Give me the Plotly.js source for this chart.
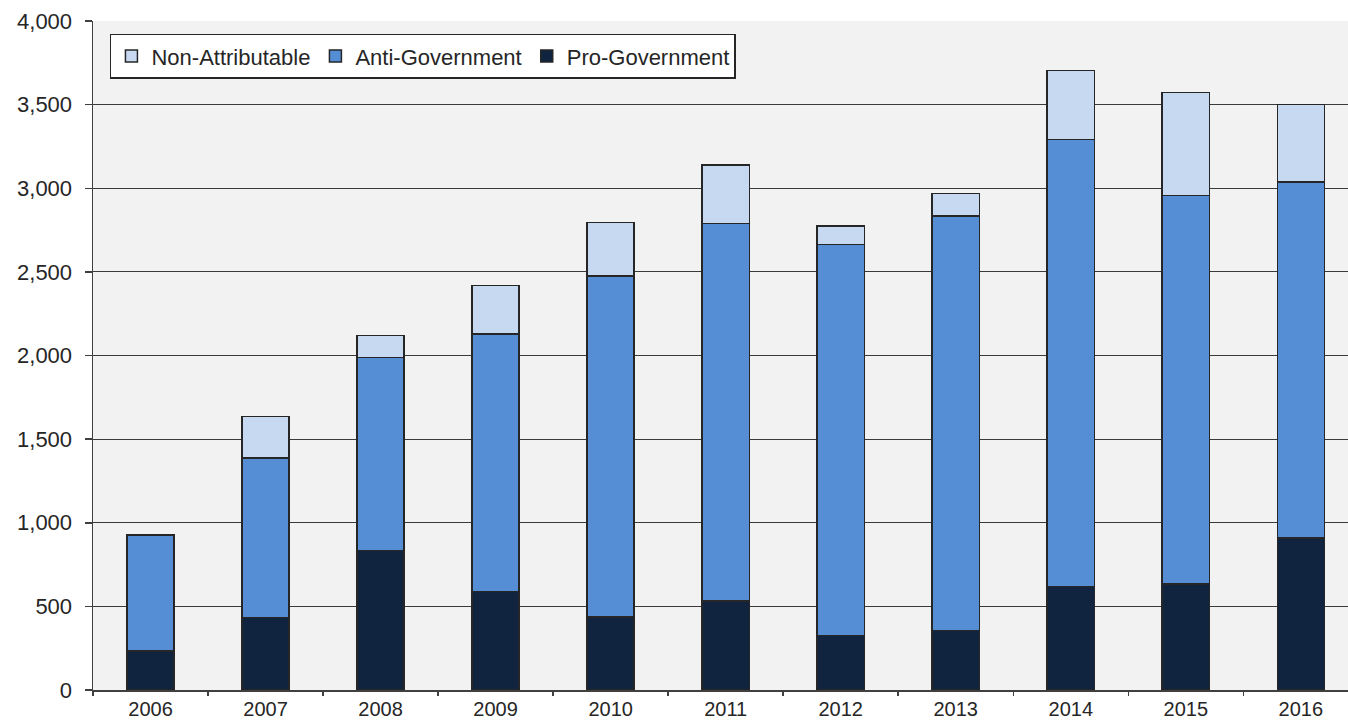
<!DOCTYPE html>
<html>
<head>
<meta charset="utf-8">
<script src="https://cdn.plot.ly/plotly-3.0.1.min.js"></script>
<style>
  html, body { margin: 0; padding: 0; background: #ffffff; overflow: hidden; }
  #chart { width: 1348px; height: 721px; }
</style>
</head>
<body>
<div id="chart"></div>
<script>
const years = ['2006','2007','2008','2009','2010','2011','2012','2013','2014','2015','2016'];
const proGovernment = [233, 435, 834, 588, 437, 531, 325, 355, 618, 633, 908];
const antiGovernment = [695, 952, 1155, 1541, 2037, 2258, 2338, 2478, 2674, 2324, 2128];
const nonAttributable = [0, 249, 132, 291, 321, 349, 110, 137, 413, 616, 465];

const outline = { color: '#262626', width: 1.5 };

const traces = [
  { type: 'bar', name: 'Pro-Government', x: years, y: proGovernment,
    marker: { color: '#10243F', line: outline } },
  { type: 'bar', name: 'Anti-Government', x: years, y: antiGovernment,
    marker: { color: '#558ED5', line: outline } },
  { type: 'bar', name: 'Non-Attributable', x: years, y: nonAttributable,
    marker: { color: '#C6D9F1', line: outline } }
];

const font = { family: 'Liberation Sans, Arial, sans-serif', size: 22, color: '#262626' };
const xfont = { family: 'Liberation Sans, Arial, sans-serif', size: 20, color: '#262626' };

const layout = {
  width: 1348, height: 721,
  margin: { l: 93, r: 0, t: 21, b: 31, pad: 0 },
  barmode: 'stack',
  bargap: 0.59,
  paper_bgcolor: '#ffffff',
  plot_bgcolor: '#F2F2F2',
  font: font,
  showlegend: true,
  legend: {
    orientation: 'h', traceorder: 'reversed',
    x: 0.0135, y: 0.981, xanchor: 'left', yanchor: 'top',
    bgcolor: '#ffffff', bordercolor: '#262626', borderwidth: 1.5,
    font: font, itemwidth: 30
  },
  xaxis: {
    type: 'category',
    range: [-0.5, 10.41],
    showgrid: false,
    showline: true, linecolor: '#404040', linewidth: 1.5,
    ticks: 'outside', tickson: 'boundaries', ticklen: 4, tickcolor: '#404040', tickwidth: 1.5,
    ticklabelstandoff: 0,
    tickfont: xfont, fixedrange: true
  },
  yaxis: {
    range: [0, 4000],
    tickvals: [0, 500, 1000, 1500, 2000, 2500, 3000, 3500, 4000],
    ticktext: ['0', '500', '1,000', '1,500', '2,000', '2,500', '3,000', '3,500', '4,000'],
    showgrid: true, gridcolor: '#3a3a3a', gridwidth: 1,
    zeroline: false,
    showline: true, linecolor: '#404040', linewidth: 1.5,
    ticks: 'outside', ticklen: 7, tickcolor: '#404040', tickwidth: 1.5,
    ticklabelstandoff: 8,
    tickfont: font, fixedrange: true
  }
};

Plotly.newPlot('chart', traces, layout, { displayModeBar: false, staticPlot: true });
</script>
</body>
</html>
